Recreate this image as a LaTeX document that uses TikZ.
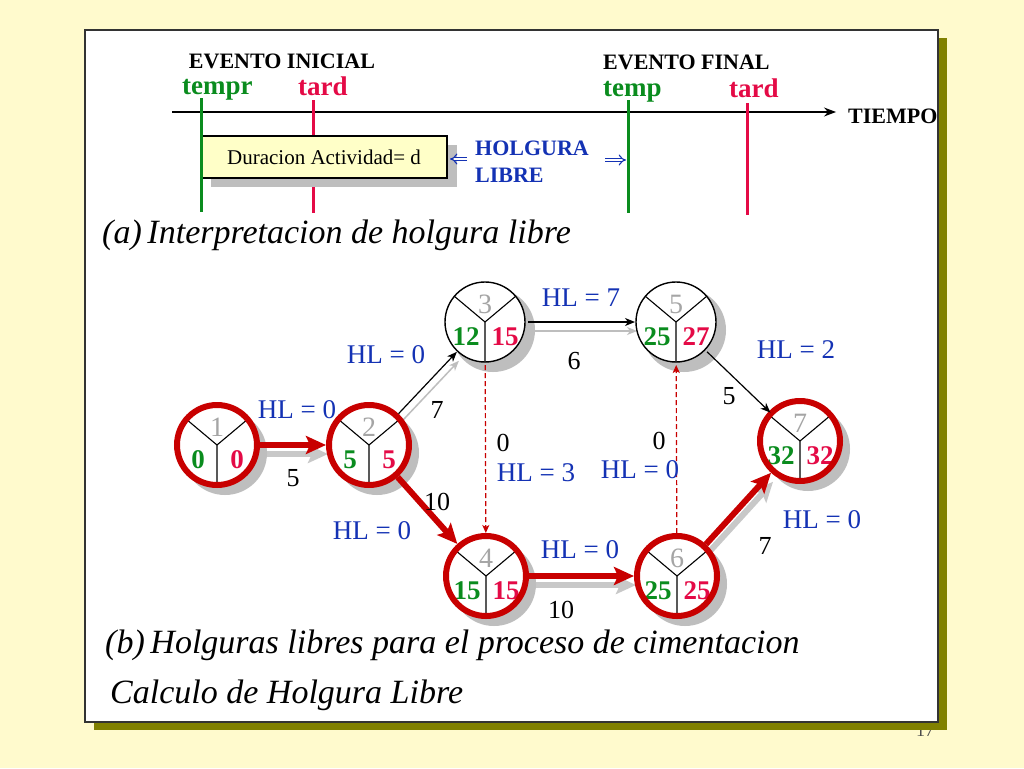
\documentclass[tikz,border=0pt]{standalone}
\usepackage{fontspec}
\setmainfont{Liberation Serif}
\usetikzlibrary{arrows.meta,calc}
\definecolor{bgy}{RGB}{255,250,205}
\definecolor{oliv}{RGB}{128,128,0}
\definecolor{grn}{RGB}{10,140,30}
\definecolor{rd}{RGB}{228,10,70}
\definecolor{nred}{RGB}{200,0,0}
\definecolor{hlb}{RGB}{20,50,180}
\definecolor{shd}{RGB}{190,190,190}
\definecolor{eshd}{RGB}{200,200,200}
\definecolor{idxg}{RGB}{165,165,165}
\definecolor{boxy}{RGB}{255,255,200}
\newcommand\fs[1]{\fontsize{#1}{#1}\selectfont}
\tikzset{
  txt/.style={inner sep=0pt},
  evn/.style={circle, minimum size=80pt, inner sep=0pt, outer sep=3pt, fill=white},
  yline/.style={black, line width=1.1pt},
  idxt/.style={txt, text=idxg, font=\fs{28}},
  erl/.style={txt, text=grn, font=\fs{27}\bfseries},
  lat/.style={txt, text=rd, font=\fs{27}\bfseries},
  bred/.style={nred, line width=6pt},
  bblk/.style={black, line width=1.4pt},
  redE/.style={nred, line width=6pt, -{Stealth[length=20pt,width=18pt,inset=4pt]}},
  redS/.style={eshd, line width=6pt, -{Stealth[length=20pt,width=18pt,inset=4pt]}},
  blkE/.style={black, line width=1.2pt, shorten >=-2pt, -{Stealth[length=10pt,width=8pt,inset=3pt]}},
  gryS/.style={shd, line width=1.5pt, shorten >=-2pt, -{Stealth[length=10pt,width=8pt,inset=3pt]}},
  dashE/.style={nred, line width=1.2pt, dash pattern=on 5pt off 3pt, -{Stealth[length=8pt,width=7pt,inset=2pt]}},
  hl/.style={txt, text=hlb, font=\fs{27}},
  num/.style={txt, font=\fs{26}},
  ttl/.style={txt, anchor=base west, font=\fs{34}\itshape},
  dbl/.style={hlb, double, double distance=2.6pt, line width=1.1pt, -{Implies}},
}
\newcommand\evt[7]{%
  \fill[shd] (#2+8,#3+8) circle[radius=42];
  \node[evn] (#1) at (#2,#3) {};
  \draw[yline] ($(#1.center)+(140:40pt)$) -- (#1.center) -- ($(#1.center)+(40:40pt)$)
               (#1.center) -- ($(#1.center)+(0,-40pt)$);
  \node[idxt] at ([yshift=18pt]#1.center) {#4};
  \node[erl] at ([xshift=-19pt,yshift=-15pt]#1.center) {#5};
  \node[lat] at ([xshift=20pt,yshift=-15pt]#1.center) {#6};
  \draw[#7] (#1.center) circle[radius=40];
}
\begin{document}
\begin{tikzpicture}[x=1pt,y=-1pt]
\useasboundingbox (0,0) rectangle (1024,768);
\fill[bgy] (0,0) rectangle (1024,768);
\node[txt, anchor=base, font=\fs{18}, text=black!70] (pg) at (925,736) {17};
\fill[oliv] (94,38) rectangle (947,730);
\draw[fill=white, draw=black!80, line width=1.2pt] (85,30) rectangle (938,722);

% ---------- (a) top part ----------
\node[txt, anchor=base, font=\fs{22}\bfseries] (evi) at (282,68) {EVENTO INICIAL};
\node[txt, anchor=base west, font=\fs{27}\bfseries, text=grn] (t1) at (182,94) {tempr};
\node[txt, anchor=base west, font=\fs{27}\bfseries, text=rd] (t2) at (298,95) {tard};
\node[txt, anchor=base west, font=\fs{22}\bfseries] (evf) at (603,69) {EVENTO FINAL};
\node[txt, anchor=base west, font=\fs{27}\bfseries, text=grn] (t3) at (603,96) {temp};
\node[txt, anchor=base west, font=\fs{27}\bfseries, text=rd] (t4) at (729,97) {tard};
\begin{scope}
\clip (85,30) rectangle (938,722);
\node[txt, anchor=base west, font=\fs{22}\bfseries] (tiempo) at (848,123) {TIEMPO};
\end{scope}

\coordinate (axs) at (172,112);
\coordinate (axe) at (836,112);
\draw[black, line width=1.2pt, -{Stealth[length=12pt,width=9pt,inset=4pt]}] (axs) -- (axe);

\coordinate (r1a) at (313,100); \coordinate (r1b) at (313,213);
\draw[rd, line width=3pt] (r1a) -- (r1b);
\fill[shd] (211,145) rectangle (457,187);
\node[draw=black, line width=1.2pt, fill=boxy, minimum width=246pt, minimum height=42pt, inner sep=0pt, font=\fs{21}] (box) at (324,157) {Duracion Actividad= d};
\coordinate (g1a) at (201,98); \coordinate (g1b) at (201,212);
\draw[grn, line width=3pt] (g1a) -- (g1b);
\coordinate (g2a) at (628,100); \coordinate (g2b) at (628,213);
\draw[grn, line width=3pt] (g2a) -- (g2b);
\coordinate (r2a) at (747,103); \coordinate (r2b) at (747,215);
\draw[rd, line width=3pt] (r2a) -- (r2b);

\node[txt, anchor=base west, font=\fs{22}\bfseries, text=hlb] (hol) at (475,155) {HOLGURA};
\node[txt, anchor=base west, font=\fs{22}\bfseries, text=hlb] (lib) at (475,182) {LIBRE};
\coordinate (la) at (467,159); \coordinate (lb) at (450,159);
\draw[dbl] (la) -- (lb);
\coordinate (ra) at (605,160); \coordinate (rb) at (626,160);
\draw[dbl] (ra) -- (rb);

\node[ttl] (ta) at (102,243) {(a)\,Interpretacion de holgura libre};

% ---------- (b) network ----------
\begin{scope}[transform canvas={shift={(2pt,-9pt)}}]
\path (217,445) node[evn, fill=none] (s1) {} (369,445) node[evn, fill=none] (s2) {}
      (485,322) node[evn, fill=none] (s3) {} (676,322) node[evn, fill=none] (s5) {}
      (486,576) node[evn, fill=none] (s4) {} (677,576) node[evn, fill=none] (s6) {}
      (800,441) node[evn, fill=none] (s7) {};
\draw[redS] (s1) -- (s2);
\draw[redS] (s4) -- (s6);
\draw[redS] (s6) -- (s7);
\draw[gryS] (s2) -- (s3);
\draw[gryS] (s3) -- (s5);
\end{scope}

\evt{n1}{217}{445}{1}{0}{0}{bred}
\evt{n2}{369}{445}{2}{5}{5}{bred}
\evt{n3}{485}{322}{3}{12}{15}{bblk}
\evt{n5}{676}{322}{5}{25}{27}{bblk}
\evt{n4}{486}{576}{4}{15}{15}{bred}
\evt{n6}{677}{576}{6}{25}{25}{bred}
\evt{n7}{800}{441}{7}{32}{32}{bred}

\draw[redE] (n1) -- (n2);
\draw[redE] (n2) -- (n4);
\draw[redE] (n4) -- (n6);
\draw[redE] (n6) -- (n7);
\draw[blkE] (n2) -- (n3);
\draw[blkE] (n3) -- (n5);
\draw[blkE] (n5) -- (n7);
\draw[dashE] (n3) -- (n4);
\draw[dashE] (n6) -- (n5);

% labels
\node[hl] (l12) at (297,410) {HL = 0};
\node[num] (d12) at (293,478) {5};
\node[hl] (l23) at (386,355) {HL = 0};
\node[num] (d23) at (437,410) {7};
\node[hl] (l35) at (581,298) {HL = 7};
\node[num] (d35) at (574,361) {6};
\node[hl] (l57) at (796,350) {HL = 2};
\node[num] (d57) at (729,396) {5};
\node[num] (d34) at (503,443) {0};
\node[hl] (l34) at (536,473) {HL = 3};
\node[num] (d65) at (659,441) {0};
\node[hl] (l65) at (640,470) {HL = 0};
\node[num] (d24) at (437,502) {10};
\node[hl] (l24) at (372,531) {HL = 0};
\node[hl] (l46) at (580,550) {HL = 0};
\node[num] (d46) at (561,610) {10};
\node[hl] (l67) at (822,520) {HL = 0};
\node[num] (d67) at (765,546) {7};

\node[ttl] (tb) at (105,653) {(b)\,Holguras libres para el proceso de cimentacion};
\node[ttl] (tc) at (110,703) {Calculo de Holgura Libre};
\end{tikzpicture}
\end{document}
